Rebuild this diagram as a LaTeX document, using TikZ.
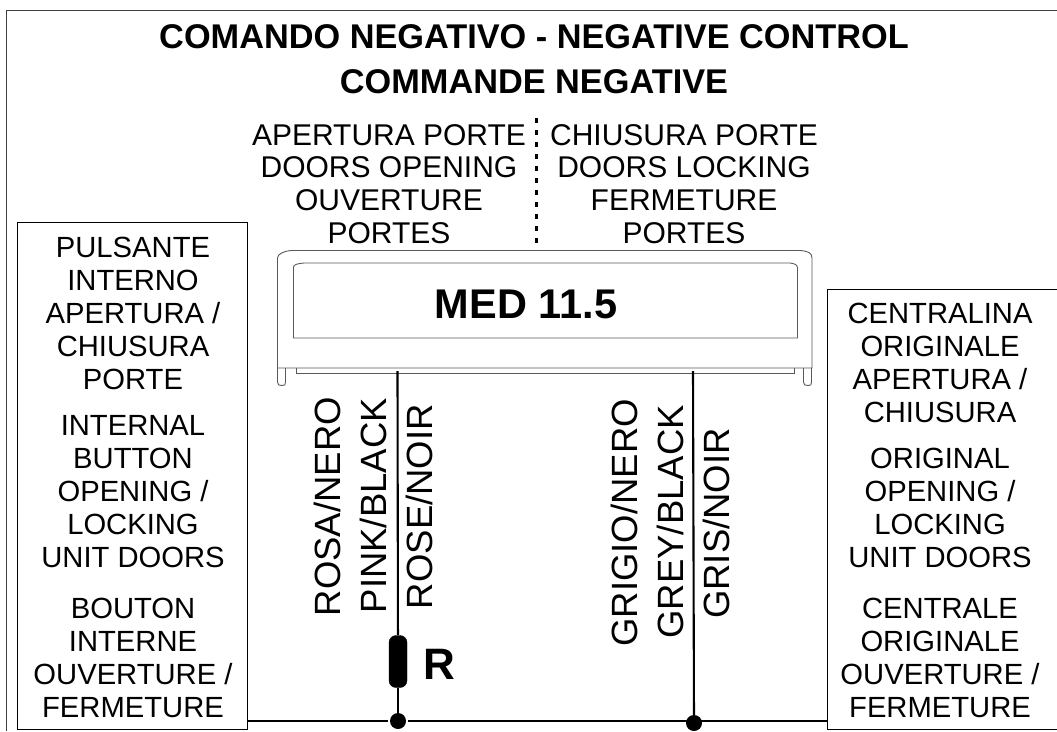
\documentclass[tikz,border=0pt]{standalone}
\usepackage{fontspec}
\setmainfont{Liberation Sans}
\newcommand{\bodyfs}{\fontsize{30pt}{33pt}\selectfont}
\newcommand{\boxfs}{\fontsize{29.2pt}{33pt}\selectfont}
\tikzset{
  x=1pt,y=-1pt,
  lbl/.style={inner sep=0pt,align=center,font=\bodyfs},
  boxlbl/.style={inner sep=0pt,align=center,font=\boxfs},
  vlbl/.style={inner sep=0pt,rotate=90,anchor=base east,font=\fontsize{36.5pt}{40pt}\selectfont},
  head/.style={inner sep=0pt,align=center,font=\fontsize{34.3pt}{38pt}\selectfont\bfseries},
  box/.style={draw=black,line width=1.4pt},
  thin1/.style={draw=black!65,line width=0.9pt},
  wire/.style={draw=black,line width=2.1pt},
  bus/.style={draw=black,line width=2.6pt},
  junct/.style={circle,fill=black,inner sep=0pt,minimum size=16pt},
}
\begin{document}
\begin{tikzpicture}
\useasboundingbox (0,0) rectangle (1057,731);
% frame
\draw[draw=black!75,line width=1.2pt] (6.5,731) -- (6.5,10.5) -- (1057,10.5);
% boxes
\node[box,minimum width=230pt,minimum height=507pt,inner sep=0pt,anchor=north west,fill=white] (lbox) at (17,222) {};
\node[box,minimum width=235pt,minimum height=440pt,inner sep=0pt,anchor=north west,fill=white] (rbox) at (827,289) {};
% titles
\node[head] (t1) at (534,37) {COMANDO NEGATIVO - NEGATIVE CONTROL};
\node[head] (t2) at (534,82) {COMMANDE NEGATIVE};
\node[lbl] (open) at (389,184) {APERTURA PORTE\\[-0.5pt]DOORS OPENING\\OUVERTURE\\PORTES};
\node[lbl] (close) at (684,184) {CHIUSURA PORTE\\[-0.5pt]DOORS LOCKING\\FERMETURE\\PORTES};
% dotted divider
\coordinate (dtop) at (536,118);
\coordinate (dbot) at (536,250);
\draw[black,line width=3pt,dash pattern=on 5pt off 7pt] (dtop) -- (dbot);
% unit body
\draw[thin1] (277.5,368) -- (277.5,258) .. controls (277.5,254) and (284,251) .. (291,250.5) -- (800,250.5) .. controls (808,251) and (812,253) .. (812,258) -- (812,368) -- cycle;
\draw[thin1] (293.5,338) -- (293.5,267) .. controls (293.5,264.5) and (298,263.5) .. (304,263) -- (790,263) .. controls (794,263.5) and (797.5,264.5) .. (797.5,268) -- (797.5,338) -- cycle;
\draw[thin1] (296.5,368) -- (296.5,373.5) -- (794,373.5) -- (794,368);
\draw[thin1] (277.5,368) -- (277.5,382) .. controls (277.5,385) and (279,385.5) .. (282,385.5) .. controls (285,385.5) and (285.5,385) .. (285.5,382) -- (285.5,368);
\draw[thin1] (803.5,368) -- (803.5,382) .. controls (803.5,385) and (805,385.5) .. (808,385.5) .. controls (811,385.5) and (811.5,385) .. (811.5,382) -- (811.5,368);
\node[inner sep=0pt,font=\fontsize{41.5pt}{44pt}\selectfont\bfseries] (med) at (526,304) {MED 11.5};
% box text
\node[boxlbl] (l1) at (133,313) {PULSANTE\\INTERNO\\APERTURA /\\CHIUSURA\\PORTE};
\node[boxlbl] (l2) at (133,492) {INTERNAL\\BUTTON\\OPENING /\\LOCKING\\UNIT DOORS};
\node[boxlbl] (l3) at (133,658) {BOUTON\\INTERNE\\OUVERTURE /\\FERMETURE};
\node[boxlbl] (r1) at (940,363) {CENTRALINA\\ORIGINALE\\APERTURA /\\CHIUSURA};
\node[boxlbl] (r2) at (940,508) {ORIGINAL\\OPENING /\\LOCKING\\UNIT DOORS};
\node[boxlbl] (r3) at (940,658) {CENTRALE\\ORIGINALE\\OUVERTURE /\\FERMETURE};
% vertical labels
\node[vlbl] (v1) at (340,397) {ROSA/NERO};
\node[vlbl] (v2) at (386,398) {PINK/BLACK};
\node[vlbl] (v3) at (432,404) {ROSE/NOIR};
\node[vlbl] (v4) at (637,399) {GRIGIO/NERO};
\node[vlbl] (v5) at (683,405) {GREY/BLACK};
\node[vlbl] (v6) at (729,428) {GRIS/NOIR};
% wires
\coordinate (w1) at (397.5,371);
\coordinate (w2) at (693,371);
\node[junct,outer sep=2pt] (j1) at (398,721) {};
\node[junct] (j2) at (694,723) {};
\node[draw=black,fill=black,rounded corners=7pt,minimum width=18pt,minimum height=52pt,inner sep=0pt] (res) at (398,661.5) {};
\node[inner sep=0pt,font=\fontsize{44pt}{48pt}\selectfont\bfseries] (rl) at (439,664) {R};
\draw[wire] (w1) -- (res);
\draw[wire,shorten >=-3pt] (res) -- (j1);
\draw[wire] (w2) -- (j2);
\draw[bus] (lbox.east |- j1) -- (j1);
\draw[bus] (j1) -- (rbox.west |- j1);
\end{tikzpicture}
\end{document}
